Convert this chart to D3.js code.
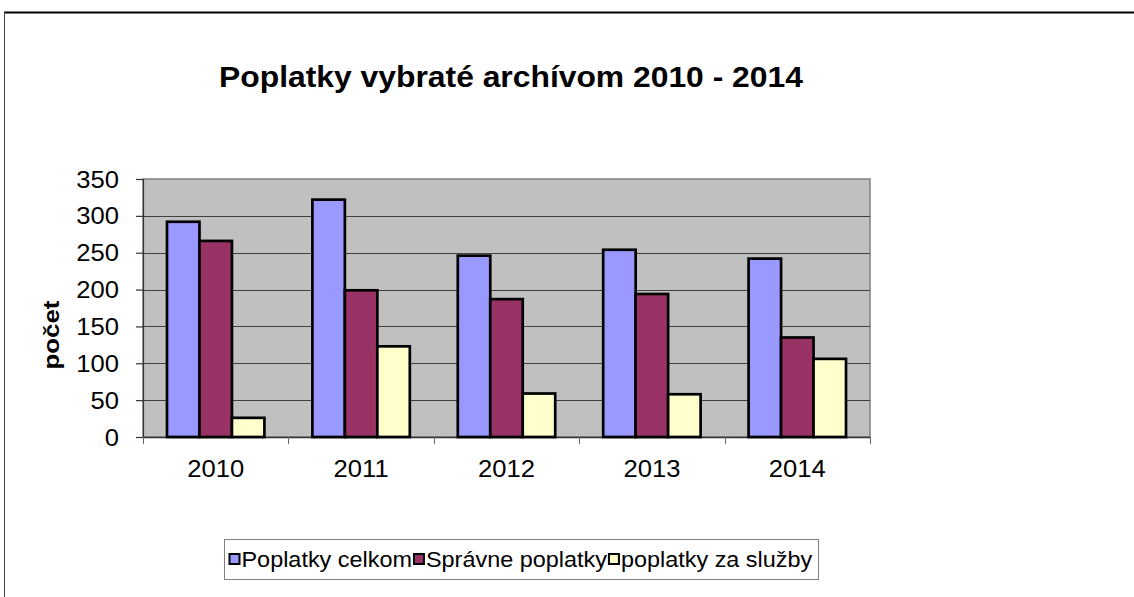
<!DOCTYPE html>
<html><head><meta charset="utf-8">
<script src="https://cdn.jsdelivr.net/npm/d3@7"></script>
<style>html,body{margin:0;padding:0;background:#fff;}svg{display:block;font-family:"Liberation Sans",Arial,sans-serif;}</style>
</head><body>
<svg id="c" width="1134" height="597"></svg>
<script>
const title = "Poplatky vybraté archívom 2010 - 2014";
const yAxisTitle = "počet";
const years = ["2010","2011","2012","2013","2014"];
const seriesNames = ["Poplatky celkom","Správne poplatky","poplatky za služby"];
const celkom = [292, 322, 246, 254, 242];
const spravne = [266, 199, 187, 194, 135];
const sluzby = [26, 123, 59, 58, 106];
const yTicks = [0, 50, 100, 150, 200, 250, 300, 350];
const colors = ["#9999FF", "#993366", "#FFFFCC"];

const seriesValues = [celkom, spravne, sluzby];
const svg = d3.select("#c");

// outer frame
svg.append("line").attr("x1",4).attr("x2",1134).attr("y1",12.5).attr("y2",12.5).attr("stroke","#000").attr("stroke-width",2);
svg.append("line").attr("x1",4.5).attr("x2",4.5).attr("y1",12).attr("y2",597).attr("stroke","#444").attr("stroke-width",1);

const plot = {l:143, r:870, t:179, b:437};
const x = d3.scaleBand().domain(years).range([plot.l, plot.r]).paddingInner(0.33).paddingOuter(0.165);
const xs = d3.scaleBand().domain(d3.range(seriesNames.length)).range([0, x.bandwidth()]);
const y = d3.scaleLinear().domain([0, 350]).range([plot.b, plot.t]);

function sText(g, str, px, py, size, sx, anchor, weight){
  const t = g.append("text").attr("transform",`translate(${px},${py}) scale(${sx},1)`)
    .attr("font-size",size).attr("text-anchor",anchor||"start").attr("fill","#000").text(str);
  if (weight) t.attr("font-weight",weight);
  return t;
}

// plot background
svg.append("rect").attr("x",plot.l).attr("y",plot.t).attr("width",plot.r-plot.l).attr("height",plot.b-plot.t)
  .attr("fill","#C0C0C0").attr("stroke","#808080").attr("stroke-width",1.5);

// gridlines
svg.append("g").selectAll("line").data(yTicks.filter(v=>v>0 && v<350)).join("line")
  .attr("x1",plot.l).attr("x2",plot.r).attr("y1",d=>Math.round(y(d))+0.5).attr("y2",d=>Math.round(y(d))+0.5)
  .attr("stroke","#404040").attr("stroke-width",1);

// y axis
const yAxis = d3.axisLeft(y).tickValues(yTicks).tickSize(7).tickFormat("");
const ya = svg.append("g").attr("transform",`translate(${plot.l},0)`).call(yAxis);
ya.selectAll("path,line").attr("stroke","#333").attr("stroke-width",1.2);
yTicks.forEach(v => sText(svg, String(v), 119, y(v)+8.5, 23.5, 1.09, "end"));

// x axis
const xa = svg.append("g").attr("transform",`translate(0,${plot.b})`)
  .call(d3.axisBottom(x).tickSize(0).tickFormat(""));
xa.select("path").attr("stroke","#333").attr("stroke-width",1.5);
const bounds = years.map(d => x(d) - (x.step() - x.bandwidth()) / 2).concat([plot.r]);
svg.append("g").selectAll("line").data(bounds).join("line")
  .attr("x1",d=>Math.round(d)+0.5).attr("x2",d=>Math.round(d)+0.5).attr("y1",plot.b).attr("y2",plot.b+7)
  .attr("stroke","#666").attr("stroke-width",1);
years.forEach(d => sText(svg, d, x(d)+x.bandwidth()/2, 476.5, 23.5, 1.09, "middle"));

// bars
seriesValues.forEach((vals, si) => {
  svg.append("g").selectAll("rect").data(years).join("rect")
    .attr("x", d=>x(d)+xs(si)).attr("width", xs.bandwidth())
    .attr("y", (d,i)=>y(vals[i])).attr("height",(d,i)=>y(0)-y(vals[i]))
    .attr("fill", colors[si]).attr("stroke","#000").attr("stroke-width",2.7);
});

// title
sText(svg, title, 511, 86.7, 29, 1.098, "middle", "bold");

// y axis title
svg.append("text").attr("transform","translate(59,335) rotate(-90)")
  .attr("text-anchor","middle").attr("font-size",22).attr("font-weight","bold")
  .attr("textLength",69).attr("lengthAdjust","spacingAndGlyphs").text(yAxisTitle);

// legend
const lg = svg.append("g");
lg.append("rect").attr("x",224.5).attr("y",539.5).attr("width",594).attr("height",40)
  .attr("fill","#fff").attr("stroke","#808080").attr("stroke-width",1);
let lx = 229.5;
seriesNames.forEach((name, i) => {
  lg.append("rect").attr("x",lx).attr("y",554).attr("width",10).attr("height",10)
    .attr("fill",colors[i]).attr("stroke","#000").attr("stroke-width",2);
  const t = sText(lg, name, lx+12, 566.5, 21.5, 1.09, "start");
  const w = t.node().getComputedTextLength()*1.09;
  lx = lx + 12 + w + 2;
});
</script>
</body></html>
